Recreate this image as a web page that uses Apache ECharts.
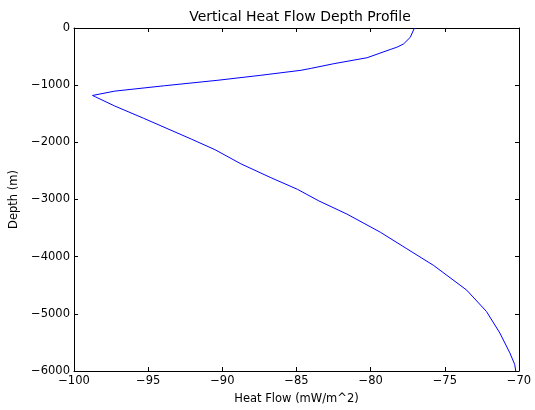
<!DOCTYPE html>
<html>
<head>
<meta charset="utf-8">
<script src="https://cdn.jsdelivr.net/npm/echarts@6/dist/echarts.min.js"></script>
<style>
html,body{margin:0;padding:0;background:#fff;}
#chart{width:535px;height:410px;}
</style>
</head>
<body>
<div id="chart"></div>
<script>
var heatFlow = [-77.05, -77.33, -77.78, -78.23, -78.68, -80.24, -82.48, -84.0, -84.7, -87.4, -90.3, -93.9, -97.25, -98.75, -98.55, -97.25, -95.3, -92.1, -90.5, -88.75, -86.73, -84.94, -83.5, -81.6, -79.35, -77.56, -75.77, -73.53, -72.19, -71.29, -70.62, -70.29, -70.22];
var depth = [0, -163, -278, -336, -376, -520, -624, -705, -740, -827, -914, -1010, -1104, -1180, -1205, -1365, -1580, -1942, -2128, -2376, -2618, -2821, -3024, -3255, -3572, -3862, -4151, -4584, -4960, -5336, -5682, -5884, -6000];
var xTicks = [-100, -95, -90, -85, -80, -75, -70];
var yTicks = [-6000, -5000, -4000, -3000, -2000, -1000, 0];

var FONT = 'DejaVu Sans';
function fmt(v){ return String(v).replace('-', '\u2212'); }
var data = heatFlow.map(function(x, i){ return [x, depth[i]]; });

var chart = echarts.init(document.getElementById('chart'), null, {renderer:'canvas'});
var tickStyle = {show:true, inside:true, length:4, lineStyle:{color:'#000', width:1}};
var lineStyle = {show:true, onZero:false, lineStyle:{color:'#000', width:1}};
chart.setOption({
  animation:false,
  backgroundColor:'#fff',
  title:{text:'Vertical Heat Flow Depth Profile', left:295, top:5, textAlign:'center',
    textStyle:{fontFamily:FONT, fontSize:14, fontWeight:'normal', color:'#000'}},
  grid:{left:72, right:16, top:28, bottom:36, containLabel:false},
  xAxis:[
    {type:'value', min:xTicks[0], max:xTicks[xTicks.length-1], interval:5, position:'bottom',
     name:'Heat Flow (mW/m^2)', nameLocation:'middle', nameGap:22,
     nameTextStyle:{fontFamily:FONT, fontSize:11.5, color:'#000'},
     axisLine:lineStyle, axisTick:tickStyle, splitLine:{show:false},
     axisLabel:{fontFamily:FONT, fontSize:11.5, color:'#000', margin:4, formatter:fmt}},
    {type:'value', min:xTicks[0], max:xTicks[xTicks.length-1], interval:5, position:'top',
     axisLine:lineStyle, axisTick:tickStyle, splitLine:{show:false}, axisLabel:{show:false}}
  ],
  yAxis:[
    {type:'value', min:yTicks[0], max:yTicks[yTicks.length-1], interval:1000, position:'left',
     name:'Depth (m)', nameLocation:'middle', nameGap:54, nameRotate:90,
     nameTextStyle:{fontFamily:FONT, fontSize:11.5, color:'#000'},
     axisLine:lineStyle, axisTick:tickStyle, splitLine:{show:false},
     axisLabel:{fontFamily:FONT, fontSize:11.5, color:'#000', margin:4, formatter:fmt}},
    {type:'value', min:yTicks[0], max:yTicks[yTicks.length-1], interval:1000, position:'right',
     axisLine:lineStyle, axisTick:tickStyle, splitLine:{show:false}, axisLabel:{show:false}}
  ],
  series:[{
    type:'line', xAxisIndex:0, yAxisIndex:0, data:data, showSymbol:false, symbol:'none',
    lineStyle:{color:'#0000ff', width:1}, clip:true
  }]
});
</script>
</body>
</html>
